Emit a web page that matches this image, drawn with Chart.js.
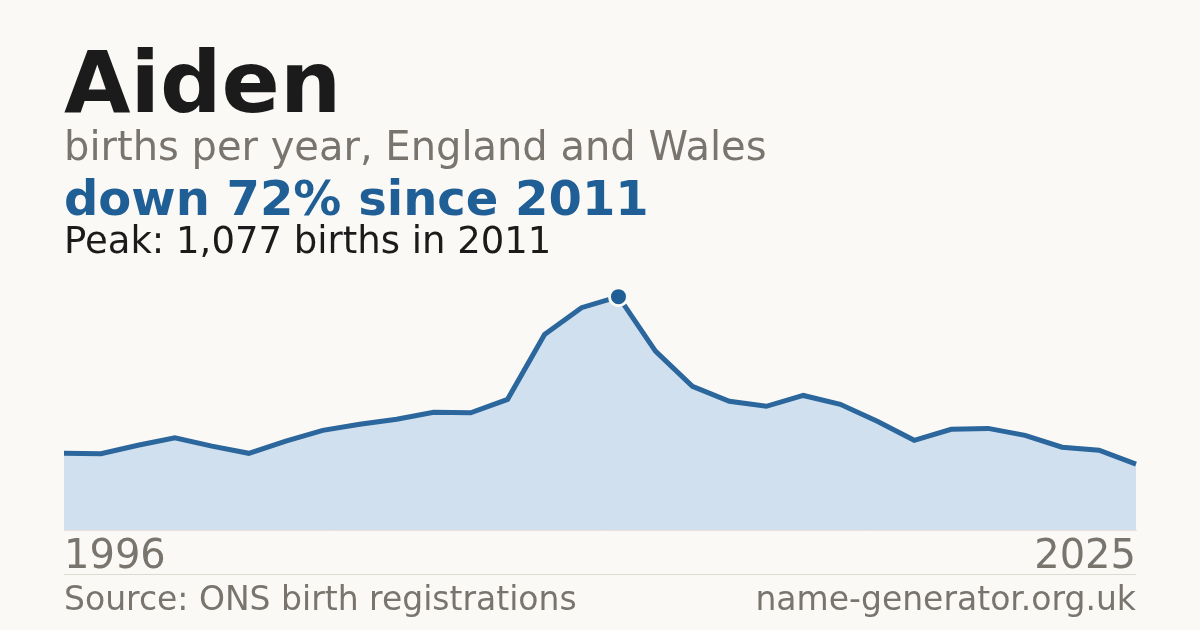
<!DOCTYPE html>
<html>
<head>
<meta charset="utf-8">
<script src="https://cdn.jsdelivr.net/npm/chart.js@4"></script>
<style>
  html, body { margin: 0; padding: 0; }
  body { width: 1200px; height: 630px; background: #faf9f5; position: relative; overflow: hidden;
         font-family: "DejaVu Sans", sans-serif; }
  .t { position: absolute; left: 64px; line-height: 1; white-space: nowrap; }
  #title { top: 39px; font-size: 86px; font-weight: bold; color: #1b1b1b; }
  #sub { top: 126px; font-size: 40px; color: #79756e; }
  #change { top: 174px; font-size: 48px; font-weight: bold; color: #1f5f96; }
  #peak { top: 222px; font-size: 37px; color: #1b1b1b; }
  #source { top: 582px; font-size: 33px; color: #79756e; }
  #site { top: 582px; left: auto; right: 64px; font-size: 33px; color: #79756e; }
  #rule { position: absolute; left: 64px; width: 1072px; top: 574px; height: 1px; background: #dedad2; }
  #wrap { position: absolute; left: 0; top: 0; width: 1200px; height: 630px; }
</style>
</head>
<body>
<div id="wrap"><canvas id="chart" width="1200" height="630"></canvas></div>
<div class="t" id="title">Aiden</div>
<div class="t" id="sub">births per year, England and Wales</div>
<div class="t" id="change">down 72% since 2011</div>
<div class="t" id="peak">Peak: 1,077 births in 2011</div>
<div id="rule"></div>
<div class="t" id="source">Source: ONS birth registrations</div>
<div class="t" id="site">name-generator.org.uk</div>
<script>
const years = ["1996","1997","1998","1999","2000","2001","2002","2003","2004","2005",
               "2006","2007","2008","2009","2010","2011","2012","2013","2014","2015",
               "2016","2017","2018","2019","2020","2021","2022","2023","2024","2025"];
const births = [354, 352, 391, 426, 387, 354, 410, 460, 488, 511,
                543, 541, 603, 902, 1026, 1077, 826, 663, 594, 571,
                621, 580, 502, 414, 465, 469, 437, 382, 368, 304];
const peakYear = "2011";

const peakIdx = years.indexOf(peakYear);
const radii = births.map((v, i) => i === peakIdx ? 9 : 0);

new Chart(document.getElementById("chart"), {
    type: "line",
    data: {
        labels: years,
        datasets: [{
            data: births,
            borderColor: "#2b669c",
            borderWidth: 5,
            backgroundColor: "#d0e0ef",
            fill: "origin",
            tension: 0,
            pointRadius: radii,
            pointHoverRadius: radii,
            pointBackgroundColor: "#1f5f96",
            pointBorderColor: "#faf9f5",
            pointBorderWidth: 3
        }]
    },
    options: {
        responsive: false,
        animation: false,
        devicePixelRatio: 1,
        layout: { padding: { left: 64, right: 64, top: 270, bottom: 60 } },
        plugins: { legend: { display: false }, tooltip: { enabled: false } },
        scales: {
            x: {
                offset: false,
                grid: { display: false, drawTicks: false },
                border: { display: true, color: "#e6e0d6", width: 1 },
                afterFit: (scale) => { scale.height = 40; },
                ticks: {
                    autoSkip: false,
                    maxRotation: 0,
                    align: "inner",
                    padding: 4,
                    color: "#79756e",
                    font: { family: "DejaVu Sans", size: 40 },
                    callback: (v, i) => (i === 0 || i === years.length - 1) ? years[i] : ""
                }
            },
            y: { display: false, min: 0, max: 1200 }
        }
    }
});
</script>
</body>
</html>
